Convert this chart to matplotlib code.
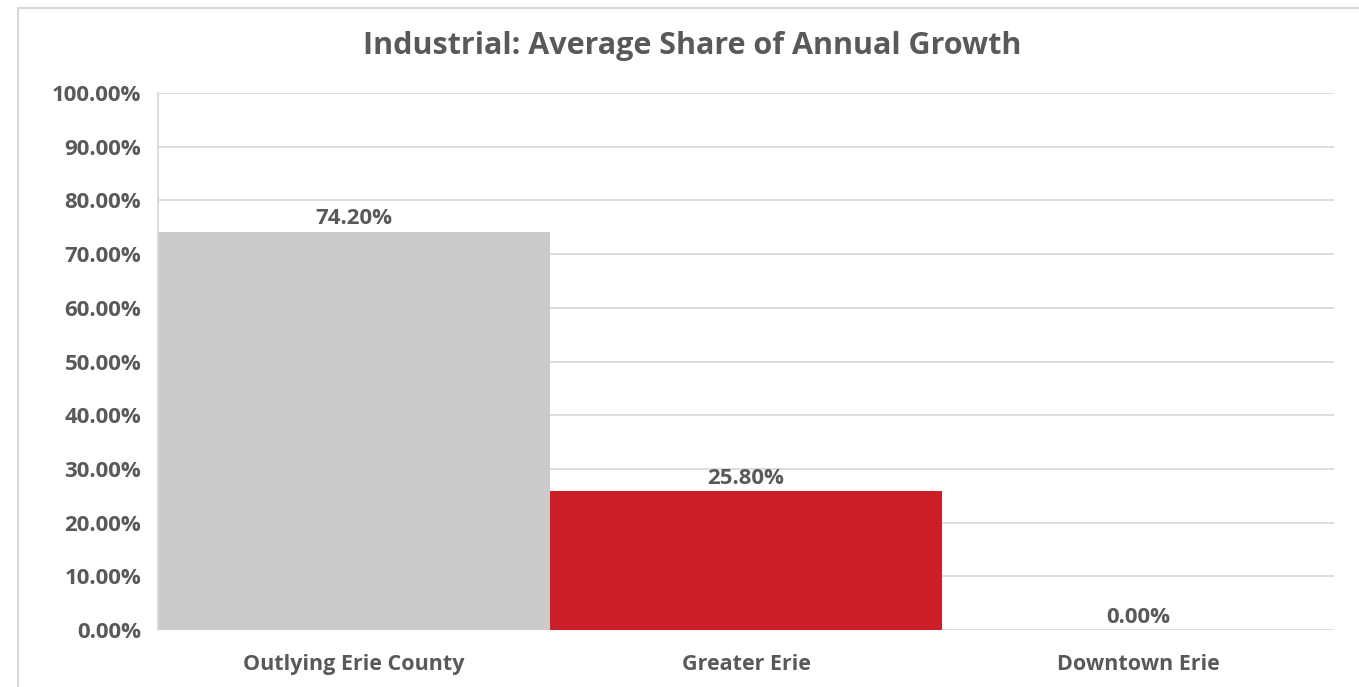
import matplotlib
matplotlib.use("Agg")
import matplotlib.pyplot as plt
from matplotlib.patches import Rectangle
from matplotlib.ticker import FuncFormatter

# data
categories = ["Outlying Erie County", "Greater Erie", "Downtown Erie"]
shares = [74.20, 25.80, 0.00]
bar_colors = ["#cbcbcb", "#cc1f27", "#cbcbcb"]
y_ticks = [0, 10, 20, 30, 40, 50, 60, 70, 80, 90, 100]

text_color = "#595959"
grid_color = "#d9d9d9"

plt.rcParams["font.family"] = ["Open Sans", "DejaVu Sans"]
plt.rcParams["font.weight"] = "bold"

fig = plt.figure(figsize=(13.59, 6.87), dpi=100)

# chart border (only top and left visible in the reference)
fig.patches.append(Rectangle((18 / 1359, -0.05), 1.1, 1 - 8 / 687 + 0.05,
                             transform=fig.transFigure, fill=False,
                             edgecolor="#d9d9d9", linewidth=1.5))

ax = fig.add_axes([158 / 1359, 1 - 630 / 687, (1334 - 158) / 1359, (630 - 93) / 687])

x = range(len(categories))
bars = ax.bar(x, shares, width=1.0, color=bar_colors, zorder=2)

for xi, v in zip(x, shares):
    ax.text(xi, v + 0.4, f"{v:.2f}%", ha="center", va="bottom",
            fontsize=16, fontweight="bold", color=text_color, zorder=3)

ax.set_xlim(-0.5, 2.5)
ax.set_ylim(0, 100)
ax.set_yticks(y_ticks)
ax.yaxis.set_major_formatter(FuncFormatter(lambda v, p: f"{v:.2f}%"))
ax.set_xticks(list(x))
ax.set_xticklabels(categories)

ax.grid(axis="y", color=grid_color, linewidth=1.3, zorder=0)
ax.set_axisbelow(True)
for side in ["top", "right", "bottom"]:
    ax.spines[side].set_visible(False)
ax.spines["left"].set_color(grid_color)
ax.spines["left"].set_linewidth(1.3)

ax.tick_params(axis="both", length=0, labelcolor=text_color)
ax.tick_params(axis="y", pad=12, labelsize=16)
ax.tick_params(axis="x", pad=17, labelsize=15.5)
for lbl in ax.get_xticklabels() + ax.get_yticklabels():
    lbl.set_fontweight("bold")

fig.text(692 / 1359, 1 - 46 / 687, "Industrial: Average Share of Annual Growth",
         ha="center", va="center", fontsize=22, fontweight="bold", color=text_color)

fig.savefig("out.png", dpi=100)
